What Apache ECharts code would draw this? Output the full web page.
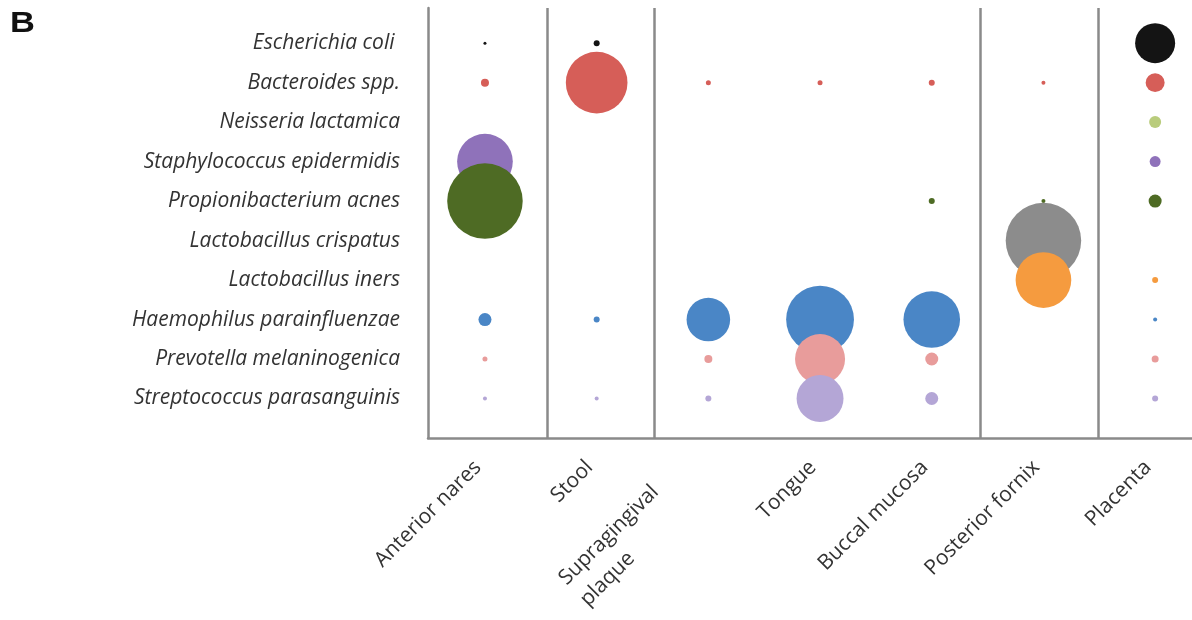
<!DOCTYPE html>
<html><head><meta charset="utf-8">
<script src="https://cdn.jsdelivr.net/npm/echarts@6/dist/echarts.min.js"></script>
<style>html,body{margin:0;padding:0;background:#fff}#c{width:1192px;height:620px}</style>
</head><body><div id="c"></div>
<script>
// Body sites (x categories)
const sites = ['Anterior nares', 'Stool', 'Supragingival\nplaque', 'Tongue', 'Buccal mucosa', 'Posterior fornix', 'Placenta'];
// Species (y categories)
const species = ['Escherichia coli ', 'Bacteroides spp.', 'Neisseria lactamica', 'Staphylococcus epidermidis',
  'Propionibacterium acnes', 'Lactobacillus crispatus', 'Lactobacillus iners', 'Haemophilus parainfluenzae',
  'Prevotella melaninogenica', 'Streptococcus parasanguinis'];
const speciesColors = ['#141414', '#d65e58', '#b9cc7c', '#8f72ba', '#4e6b24', '#8c8c8c', '#f59b3f', '#4a86c6', '#e89c9b', '#b4a6d6'];
// Group separators (positions between site categories)
const groupBoundaries = [0.56, 1.52, 4.43, 5.49];

// Relative abundance per species across the sites (estimated)
const escherichiaColi      = [0.09, 0.36, 0, 0, 0, 0, 16];
const bacteroides          = [0.64, 38, 0.25, 0.25, 0.36, 0.16, 3.6];
const neisseria            = [0, 0, 0, 0, 0, 0, 1.44];
const staphylococcus       = [31, 0, 0, 0, 0, 0, 1.2];
const propionibacterium    = [57, 0, 0, 0, 0.36, 0.16, 1.69];
const lactoCrispatus       = [0, 0, 0, 0, 0, 57, 0];
const lactoIners           = [0, 0, 0, 0, 0, 31, 0.36];
const haemophilus          = [1.7, 0.36, 19, 46, 32, 0, 0.16];
const prevotella           = [0.25, 0, 0.64, 25, 1.69, 0, 0.49];
const streptococcus        = [0.16, 0.16, 0.36, 22, 1.69, 0, 0.36];
const abundance = [escherichiaColi, bacteroides, neisseria, staphylococcus, propionibacterium,
  lactoCrispatus, lactoIners, haemophilus, prevotella, streptococcus];

const chart = echarts.init(document.getElementById('c'), null, {renderer: 'canvas'});
const axisGray = '#8a8a8a';
const labelFont = '"Open Sans", sans-serif';

const series = species.map((name, i) => ({
  name: name,
  type: 'scatter',
  symbol: 'circle',
  data: abundance[i].map((v, j) => [j, i, v]).filter(d => d[2] > 0),
  symbolSize: d => 10 * Math.sqrt(d[2]),
  itemStyle: {color: speciesColors[i], opacity: 1},
  emphasis: {disabled: true},
  silent: true,
  z: 2
}));
series.push({
  type: 'scatter',
  data: [],
  silent: true,
  markLine: {
    silent: true,
    symbol: ['none', 'none'],
    label: {show: false},
    lineStyle: {color: axisGray, width: 2.5, type: 'solid'},
    data: groupBoundaries.map(b => ({xAxis: b}))
  }
});

chart.setOption({
  backgroundColor: '#fff',
  animation: false,
  graphic: [{
    type: 'text', left: 10, top: 9, scaleX: 1.15,
    style: {text: 'B', font: 'bold 30px "Liberation Sans", Arial, sans-serif', fill: '#111'}
  }],
  grid: {left: 428, right: 0, top: 8, bottom: 182, containLabel: false, outerBoundsMode: 'none'},
  xAxis: {
    type: 'value', min: -0.51, max: 6.33,
    axisLine: {show: true, onZero: false, lineStyle: {color: axisGray, width: 2.5}},
    axisTick: {show: false},
    splitLine: {show: false},
    axisLabel: {
      customValues: sites.map((s, i) => i),
      rotate: 45, margin: 19,
      formatter: v => {
        const s = sites[v];
        if (s === undefined) return '';
        const parts = s.split('\n');
        const style = parts.length > 1 ? 'm' : 'c';
        return parts.map(t => '{' + style + '|' + t + '}').join('\n');
      },
      color: '#333', fontSize: 21, fontFamily: labelFont,
      rich: {
        c: {align: 'center', fontSize: 21, fontFamily: labelFont, color: '#333', lineHeight: 25, padding: [0, 10, 0, 0]},
        m: {align: 'left', fontSize: 21, fontFamily: labelFont, color: '#333', lineHeight: 30, padding: [0, 60, 0, 0]}
      }
    }
  },
  yAxis: {
    type: 'value', inverse: true, min: -0.89, max: 10,
    axisLine: {show: true, onZero: false, lineStyle: {color: axisGray, width: 2.5}},
    axisTick: {show: false},
    splitLine: {show: false},
    axisLabel: {
      customValues: species.map((s, i) => i),
      formatter: v => species[v] !== undefined ? species[v] : '',
      margin: 28, color: '#333', fontSize: 21, fontStyle: 'italic',
      fontFamily: labelFont
    }
  },
  series: series
});
</script>
</body></html>
